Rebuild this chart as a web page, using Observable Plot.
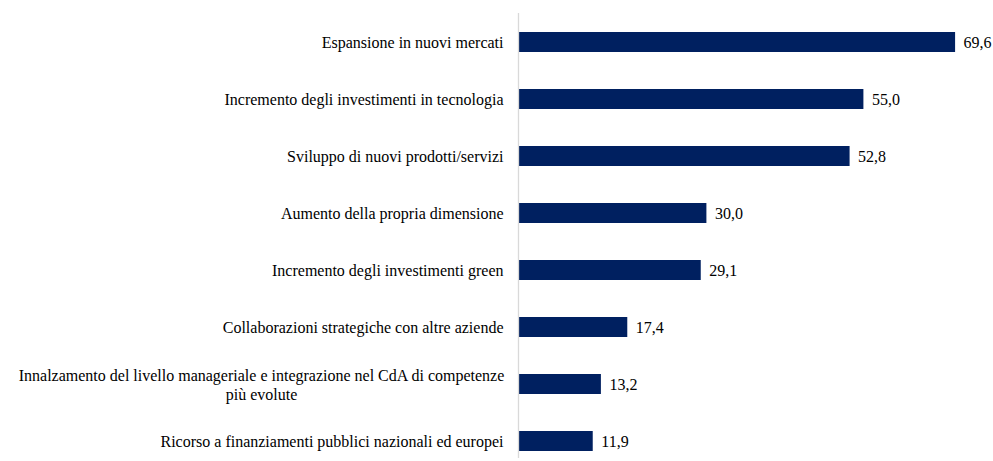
<!DOCTYPE html>
<html>
<head>
<meta charset="utf-8">
<script src="https://cdn.jsdelivr.net/npm/d3@7"></script>
<script src="https://cdn.jsdelivr.net/npm/@observablehq/plot@0.6"></script>
<style>
  html, body { margin: 0; padding: 0; background: #fff; }
  #chart svg { display: block; }
</style>
</head>
<body>
<div id="chart"></div>
<script>
const categories = [
  "Espansione in nuovi mercati",
  "Incremento degli investimenti in tecnologia",
  "Sviluppo di nuovi prodotti/servizi",
  "Aumento della propria dimensione",
  "Incremento degli investimenti green",
  "Collaborazioni strategiche con altre aziende",
  "Innalzamento del livello manageriale e integrazione nel CdA di competenze\npiù evolute",
  "Ricorso a finanziamenti pubblici nazionali ed europei"
];
const values = [69.6, 55.0, 52.8, 30.0, 29.1, 17.4, 13.2, 11.9];

const data = categories.map((c, i) => ({category: c, value: values[i]}));
const fmt = v => v.toFixed(1).replace(".", ",");
const font = "'Liberation Serif', 'Times New Roman', serif";
const single = data.filter(d => !d.category.includes("\n"));
const multi = data.filter(d => d.category.includes("\n"));

const chart = Plot.plot({
  width: 993,
  height: 461,
  marginLeft: 518,
  marginRight: 4,
  marginTop: 13,
  marginBottom: 3,
  style: {fontFamily: font, fontSize: "16px", color: "#000", background: "#fff"},
  x: {domain: [0, 75], axis: null},
  y: {domain: categories, range: [12.9, 470.3], paddingInner: 0.65, paddingOuter: 0.325, axis: null},
  marks: [
    Plot.barX(data, {x: "value", y: "category", fill: "#002060"}),
    Plot.ruleX([0], {stroke: "#d9d9d9", strokeWidth: 1.3}),
    Plot.text(data, {x: "value", y: "category", text: d => fmt(d.value), textAnchor: "start", dx: 8, fill: "#000", fontSize: 16}),
    Plot.text(single, {x: 0, y: "category", text: "category", textAnchor: "end", dx: -15, fill: "#000", fontSize: 16}),
    Plot.text(multi, {x: 0, y: "category", text: "category", textAnchor: "middle", dx: -257, lineHeight: 1.15, fill: "#000", fontSize: 16})
  ]
});
document.getElementById("chart").appendChild(chart);
</script>
</body>
</html>
